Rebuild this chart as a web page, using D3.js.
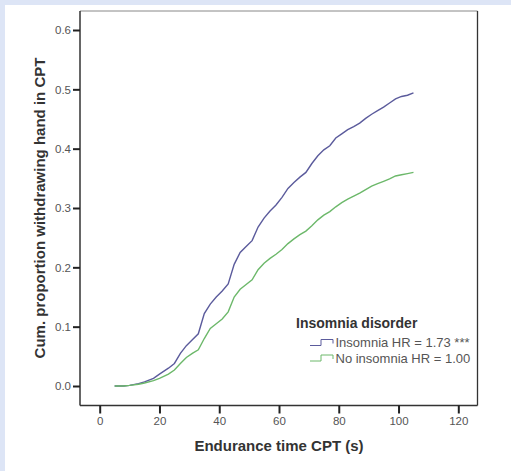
<!DOCTYPE html>
<html><head><meta charset="utf-8">
<script src="https://cdn.jsdelivr.net/npm/d3@7"></script>
<style>body{margin:0;background:#dde5f6;}svg{display:block;}</style>
</head><body>
<script>
const timeSec = [5,8,10,13,15,18,20,23,25,27,29,31,33,35,37,39,41,43,45,47,49,51,53,55,57,59,61,63,65,67,69,71,73,75,77,79,81,83,85,87,89,91,93,95,97,99,101,103,105];
const insomnia = [0,0,0.001,0.004,0.007,0.013,0.020,0.030,0.038,0.055,0.068,0.078,0.088,0.122,0.138,0.150,0.160,0.172,0.205,0.225,0.235,0.245,0.268,0.283,0.295,0.305,0.318,0.333,0.343,0.352,0.360,0.375,0.388,0.398,0.405,0.418,0.425,0.432,0.437,0.443,0.451,0.458,0.464,0.470,0.477,0.484,0.488,0.490,0.494];
const noInsomnia = [0,0,0.001,0.003,0.005,0.009,0.013,0.020,0.027,0.038,0.048,0.055,0.061,0.080,0.097,0.105,0.113,0.125,0.150,0.163,0.171,0.179,0.196,0.207,0.215,0.222,0.230,0.240,0.248,0.255,0.261,0.270,0.280,0.288,0.294,0.302,0.309,0.315,0.320,0.325,0.331,0.337,0.341,0.345,0.349,0.354,0.356,0.358,0.360];
const yTicks = [0,0.1,0.2,0.3,0.4,0.5,0.6];
const xTicks = [0,20,40,60,80,100,120];
const legendTitle = "Insomnia disorder";
const legendLabels = ["Insomnia HR = 1.73 ***","No insomnia HR = 1.00"];
const colors = ["#5b5b9c","#6cb86a"];

const W=511,H=471;
const FF="Liberation Sans, Arial, sans-serif";
const svg=d3.select("body").append("svg").attr("width",W).attr("height",H);
svg.append("rect").attr("x",5).attr("y",5).attr("width",W-5).attr("height",H-5).attr("fill","#fff");

const x=d3.scaleLinear().domain([0,120]).range([99.7,458.3]);
const y=d3.scaleLinear().domain([0,0.6]).range([386,30]);
const L=80,R=477.5,T=11,B=405.5;

svg.append("line").attr("x1",L).attr("x2",R).attr("y1",T).attr("y2",T).attr("stroke","#888").attr("stroke-width",1);
svg.append("line").attr("x1",R).attr("x2",R).attr("y1",T).attr("y2",B).attr("stroke","#333").attr("stroke-width",1.3);
svg.append("line").attr("x1",L).attr("x2",L).attr("y1",T).attr("y2",B).attr("stroke","#333").attr("stroke-width",1.5);
svg.append("line").attr("x1",L).attr("x2",R).attr("y1",B).attr("y2",B).attr("stroke","#333").attr("stroke-width",1.5);

const yAxis=svg.append("g").attr("transform",`translate(${L},0)`)
  .call(d3.axisLeft(y).tickValues(yTicks).tickFormat(d3.format(".1f")).tickSize(7).tickPadding(2));
const xAxis=svg.append("g").attr("transform",`translate(0,${B})`)
  .call(d3.axisBottom(x).tickValues(xTicks).tickFormat(d3.format("d")).tickSize(8).tickPadding(3));
[yAxis,xAxis].forEach(g=>{
  g.select(".domain").remove();
  g.selectAll(".tick line").attr("stroke","#222").attr("stroke-width",2);
  g.selectAll(".tick text").attr("fill","#555").style("font-family",FF).style("font-size","11.5px");
});

const line=d3.line().x((d,i)=>x(timeSec[i])).y(d=>y(d)).curve(d3.curveLinear);
[insomnia,noInsomnia].forEach((s,k)=>{
  svg.append("path").datum(s).attr("d",line).attr("fill","none").attr("stroke",colors[k]).attr("stroke-width",1.4);
});

svg.append("text").attr("x",279).attr("y",451).attr("text-anchor","middle")
  .style("font-family",FF).style("font-weight","bold").style("font-size","15px").attr("fill","#333")
  .text("Endurance time CPT (s)");
svg.append("text").attr("transform","translate(44.5,208) rotate(-90)").attr("text-anchor","middle")
  .style("font-family",FF).style("font-weight","bold").style("font-size","15px").attr("fill","#333")
  .text("Cum. proportion withdrawing hand in CPT");

svg.append("text").attr("x",296).attr("y",328).style("font-family",FF)
  .style("font-weight","bold").style("font-size","14px").attr("fill","#333").text(legendTitle);
legendLabels.forEach((lab,k)=>{
  const yy=342.5+k*15.5;
  svg.append("path").attr("d",`M310,${yy+3}H321V${yy-3}H333V${yy+1}`).attr("fill","none").attr("stroke",colors[k]).attr("stroke-width",1);
  svg.append("text").attr("x",335.5).attr("y",yy+4.5).style("font-family",FF)
    .style("font-size","13px").attr("fill","#555").text(lab);
});
</script>
</body></html>
